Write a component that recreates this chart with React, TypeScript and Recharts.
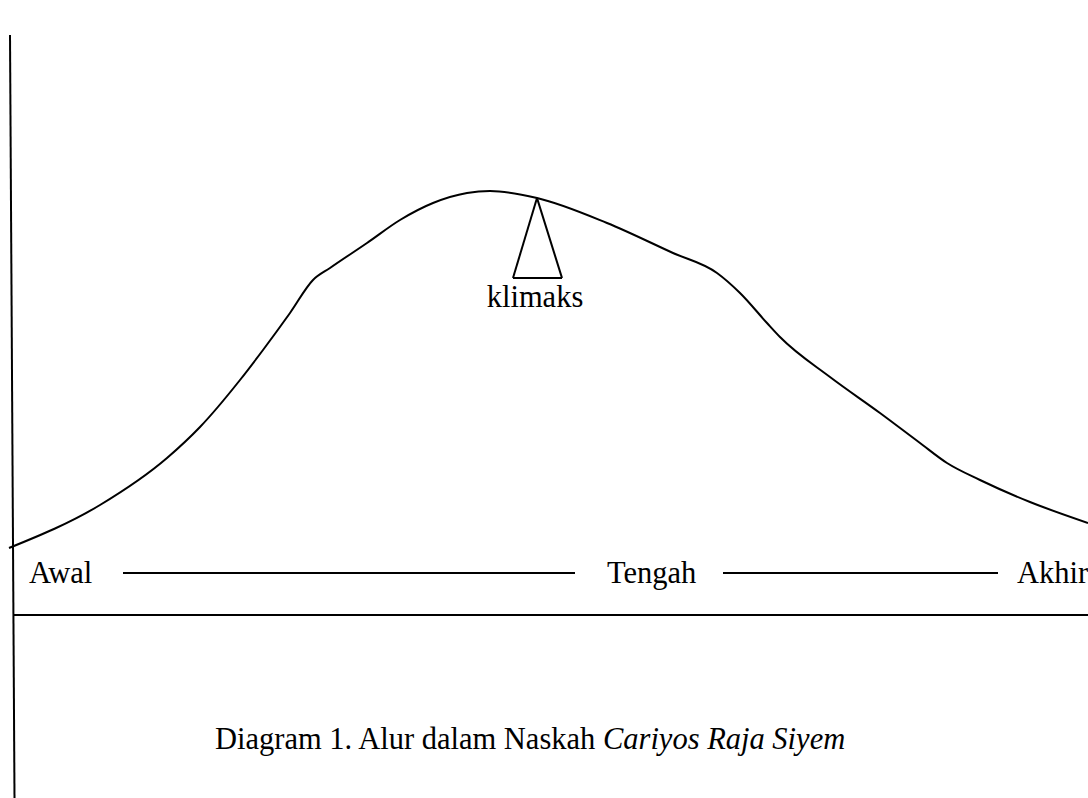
import { ComposedChart, Line, XAxis, YAxis, ReferenceLine, Scatter } from "recharts";

// plot line (alur) — x across the page, y = height above the baseline
const curveX = [9, 100, 167, 200, 240, 263, 290, 313, 330, 367, 400, 433, 467, 490, 537, 607, 673, 717, 740, 767, 780, 830, 880, 920, 947, 980, 1030, 1088];
const curveY = [67, 110, 157, 188, 235, 265, 302, 335, 347, 372, 395, 412, 422, 424, 417, 392, 362, 342, 322, 292, 278, 238, 202, 172, 152, 135, 113, 92];

// axes
const verticalAxis = [
  { x: 10, y: 580 },
  { x: 14.5, y: -183 },
];
const horizontalAxis = [
  { x: 14, y: 0 },
  { x: 1088, y: 0 },
];

// klimaks marker
const triangle = [
  { x: 537, y: 417 },
  { x: 562, y: 337 },
  { x: 513, y: 337 },
];

// Awal — Tengah — Akhir
const phaseLabels = ["Awal", "Tengah", "Akhir"];
const phaseX = [29, 607, 1017];
const phaseY = 32;
const connectors = [
  [123, 575],
  [723, 998],
];
const connectorY = 42;

const climaxLabel = { x: 535, y: 308, text: "klimaks" };
const caption = { x: 215, y: -134, plain: "Diagram 1. Alur dalam Naskah ", italic: "Cariyos Raja Siyem" };

const curveData = curveX.map((x, i) => ({ x, y: curveY[i] }));

const textData = [
  ...phaseLabels.map((t, i) => ({ x: phaseX[i], y: phaseY, kind: "phase", text: t })),
  { ...climaxLabel, kind: "climax" },
  { x: caption.x, y: caption.y, kind: "caption", text: caption.plain },
];

const font = "'Liberation Serif', 'Times New Roman', serif";

const TextShape = (props: any) => {
  const { cx, cy, payload } = props;
  if (payload.kind === "caption") {
    return (
      <text x={cx} y={cy} fontFamily={font} fontSize={30.5} fill="#000">
        {caption.plain}
        <tspan fontStyle="italic">{caption.italic}</tspan>
      </text>
    );
  }
  return (
    <text
      x={cx}
      y={cy}
      fontFamily={font}
      fontSize={30.5}
      fill="#000"
      textAnchor={payload.kind === "climax" ? "middle" : "start"}
    >
      {payload.text}
    </text>
  );
};

const seg = (a: { x: number; y: number }, b: { x: number; y: number }, key: string) => (
  <ReferenceLine
    key={key}
    segment={[a, b]}
    stroke="#000"
    strokeWidth={2}
    ifOverflow="visible"
  />
);

export default function App() {
  return (
    <div style={{ position: "absolute", left: 0, top: 0, width: 1088, height: 798, background: "#fff", overflow: "hidden" }}>
      <ComposedChart width={1088} height={798} data={curveData} margin={{ top: 0, right: 0, bottom: 0, left: 0 }}>
        <XAxis dataKey="x" type="number" domain={[0, 1088]} hide allowDataOverflow />
        <YAxis type="number" domain={[-183, 615]} hide allowDataOverflow />
        {seg(verticalAxis[0], verticalAxis[1], "v")}
        {seg(horizontalAxis[0], horizontalAxis[1], "h")}
        {connectors.map(([a, b], i) => seg({ x: a, y: connectorY }, { x: b, y: connectorY }, "c" + i))}
        {triangle.map((p, i) => seg(p, triangle[(i + 1) % triangle.length], "t" + i))}
        <Line
          dataKey="y"
          type="monotone"
          stroke="#000"
          strokeWidth={2}
          dot={false}
          activeDot={false}
          isAnimationActive={false}
        />
        <Scatter data={textData} dataKey="y" shape={TextShape} isAnimationActive={false} />
      </ComposedChart>
    </div>
  );
}
